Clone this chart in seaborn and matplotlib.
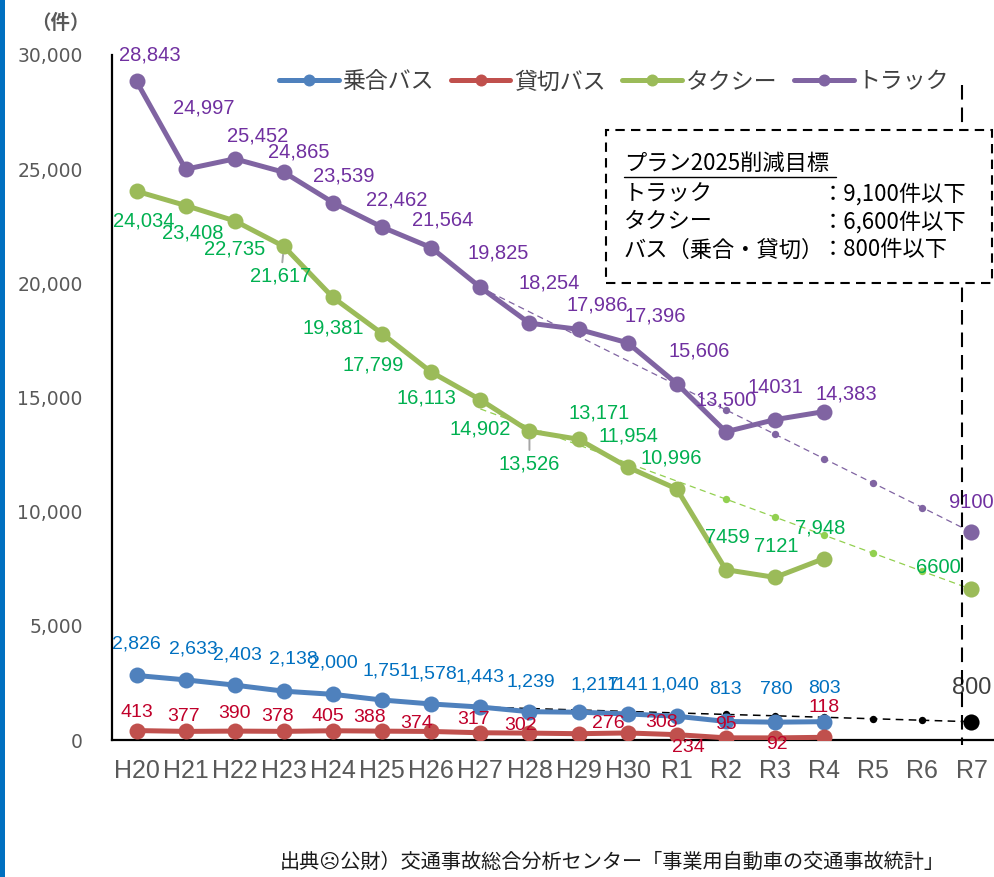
import numpy as np
import pandas as pd
import seaborn as sns
import matplotlib.pyplot as plt
from matplotlib.lines import Line2D
from matplotlib.patches import Rectangle

# ---- data ----
years = ['H20', 'H21', 'H22', 'H23', 'H24', 'H25', 'H26', 'H27', 'H28', 'H29', 'H30',
         'R1', 'R2', 'R3', 'R4', 'R5', 'R6', 'R7']

noriai_bus = [2826, 2633, 2403, 2138, 2000, 1751, 1578, 1443, 1239, 1217, 1141, 1040, 813, 780, 803]
kashikiri_bus = [413, 377, 390, 378, 405, 388, 374, 317, 302, 276, 308, 234, 95, 92, 118]
taxi = [24034, 23408, 22735, 21617, 19381, 17799, 16113, 14902, 13526, 13171, 11954, 10996, 7459, 7121, 7948]
truck = [28843, 24997, 25452, 24865, 23539, 22462, 21564, 19825, 18254, 17986, 17396, 15606, 13500, 14031, 14383]

# dotted paths H27 -> R7 toward the plan targets
trend_years = years[7:]
truck_trend = [19825, 18750, 17680, 16610, 15540, 14460, 13390, 12320, 11250, 10180, 9100]
taxi_trend = [14500, 13710, 12920, 12130, 11340, 10550, 9760, 8970, 8180, 7390, 6600]
bus_trend = [1443, 1380, 1315, 1250, 1185, 1120, 1060, 995, 930, 865, 800]
dot_years = ['R2', 'R3', 'R4', 'R5', 'R6']

target_year = 'R7'
truck_target = 9100
taxi_target = 6600
bus_target = 800

# label offsets in pixels (dx, dy up)
truck_off = [(13, 26), (18, 61), (23, 23), (15, 20), (11, 27), (15, 27), (11, 28), (18, 34), (20, 40),
             (19, 24), (28, 27), (22, 33), (0, 32), (0, 32), (22, 18)]
taxi_off = [(7, -30), (7, -27), (0, -28), (-3, -30), (0, -31), (-9, -31), (-5, -26), (0, -29), (0, -33),
            (21, 26), (1, 31), (-6, 31), (1, 32), (1, 31), (-4, 31)]
noriai_off = [(0, 31), (8, 31), (3, 30), (9, 32), (0, 31), (5, 29), (2, 30), (0, 30), (1, 30),
              (16, 27), (0, 28), (-2, 31), (0, 32), (1, 33), (0, 33)]
kashikiri_off = [(0, 18), (-2, 15), (0, 18), (-6, 15), (-5, 14), (-13, 14), (-15, 8), (-7, 13), (-9, 8),
                 (30, 10), (34, 10), (12, -13), (0, 13), (2, -7), (0, 30)]

W, H = 995, 877


def fx(px):
    return px / W


def fy(py):
    return 1 - py / H


sns.set_style('white')
plt.rcParams['font.family'] = ['Noto Sans CJK JP', 'DejaVu Sans']

fig = plt.figure(figsize=(W / 100, H / 100), dpi=100)
ax = fig.add_axes([fx(112), fy(740), fx(996) - fx(112), fy(55) - fy(740)])

pos = {y: i for i, y in enumerate(years)}
x_main = [pos[y] for y in years[:len(truck)]]
x_trend = [pos[y] for y in trend_years]
x_dots = [pos[y] for y in dot_years]
x_target = pos[target_year]

# dotted trend lines
for vals, col, lw in [(truck_trend, '#8064A2', 0.9), (taxi_trend, '#92D050', 0.9), (bus_trend, 'black', 1.1)]:
    sns.lineplot(x=x_trend, y=vals, ax=ax, color=col, linewidth=lw, linestyle=(0, (5, 3.5)),
                 zorder=3, legend=False)
    dots = [vals[trend_years.index(y)] for y in dot_years]
    sns.scatterplot(x=x_dots, y=dots, ax=ax, color=col, s=28, linewidth=0, zorder=3, legend=False)

# main series
series = [('乗合バス', noriai_bus, '#4F81BD'),
          ('貸切バス', kashikiri_bus, '#C0504D'),
          ('タクシー', taxi, '#9BBB59'),
          ('トラック', truck, '#8064A2')]
for name, vals, col in series:
    sns.lineplot(x=x_main, y=vals, ax=ax, color=col, linewidth=3.6, marker='o', markersize=11.5,
                 markeredgewidth=0, label=name, zorder=4)

# targets
for val, col in [(truck_target, '#8064A2'), (taxi_target, '#9BBB59'), (bus_target, 'black')]:
    sns.scatterplot(x=[x_target], y=[val], ax=ax, color=col, s=135, linewidth=0, zorder=5, legend=False)


def put_labels(vals, offs, color, plain=(), leaders=(), size=14.5):
    for i, (x, v, (dx, dy)) in enumerate(zip(x_main, vals, offs)):
        txt = str(v) if i in plain else f'{v:,}'
        kw = {}
        if i in leaders:
            kw['arrowprops'] = dict(arrowstyle='-', color='#A6A6A6', lw=1.4, shrinkA=1, shrinkB=6)
        ax.annotate(txt, (x, v), xytext=(dx, dy), textcoords='offset pixels', ha='center',
                    va='center', color=color, fontsize=size, family='Liberation Sans', zorder=6, **kw)


put_labels(truck, truck_off, '#7030A0', plain={13})
put_labels(taxi, taxi_off, '#00B050', plain={12, 13}, leaders={3, 8})
put_labels(noriai_bus, noriai_off, '#0070C0', plain={10}, size=14)
put_labels(kashikiri_bus, kashikiri_off, '#C0002A', size=14)

ax.annotate(str(truck_target), (x_target, truck_target), xytext=(0, 30), textcoords='offset pixels',
            ha='center', va='center', color='#7030A0', fontsize=14.5, family='Liberation Sans', zorder=6)
ax.annotate(str(taxi_target), (x_target, taxi_target), xytext=(-33, 22), textcoords='offset pixels',
            ha='center', va='center', color='#00B050', fontsize=14.5, family='Liberation Sans', zorder=6)
ax.annotate(str(bus_target), (x_target, bus_target), xytext=(0, 34), textcoords='offset pixels',
            ha='center', va='center', color='#404040', fontsize=17, family='Liberation Sans', zorder=6)

# axes styling
ax.set_xlim(-0.5, len(years) - 0.5)
ax.set_ylim(0, 30000)
ax.set_xticks(range(len(years)))
ax.set_xticklabels(years, family='Liberation Sans', fontsize=18, color='#595959')
ax.set_xticks(np.arange(0.5, len(years) - 1, 1), minor=True)
ax.tick_params(axis='x', which='major', length=0, pad=14)
ax.tick_params(axis='x', which='minor', direction='in', length=4, width=1.2, color='black')
ax.set_yticks(range(0, 30001, 5000))
ax.set_yticklabels([f'{v:,}' for v in range(0, 30001, 5000)], family='DejaVu Sans',
                   fontsize=13.5, color='#595959')
ax.tick_params(axis='y', direction='in', length=5, width=1.5, color='black', pad=21)
for s in ['top', 'right']:
    ax.spines[s].set_visible(False)
for s in ['left', 'bottom']:
    ax.spines[s].set_color('black')
    ax.spines[s].set_linewidth(1.6)
ax.set_xlabel('')
ax.set_ylabel('')

handles, labels = ax.get_legend_handles_labels()
ax.legend(handles, labels, ncol=4, loc='center left', bbox_to_anchor=(fx(279), fy(82)),
          bbox_transform=fig.transFigure, frameon=False, fontsize=16.5, handlelength=2.6,
          handletextpad=0.15, columnspacing=0.75, borderpad=0, borderaxespad=0, markerscale=0.75,
          labelcolor='#404040')

# plan box and divider
fig.add_artist(Line2D([fx(962), fx(962)], [fy(85), fy(745)], color='black', lw=1.5,
                      linestyle=(0, (7, 3.8)), zorder=2))
fig.add_artist(Rectangle((fx(606), fy(283)), fx(992) - fx(606), fy(130) - fy(283),
                         facecolor='white', edgecolor='black', lw=1.5, linestyle=(0, (4.5, 3)),
                         zorder=3))
fig.text(fx(624), fy(163), 'プラン2025削減目標', fontsize=16, color='black', va='center',
         ha='left', zorder=4)
fig.add_artist(Line2D([fx(624), fx(836)], [fy(177), fy(177)], color='black', lw=1.0, zorder=4))
box_rows = [('トラック', '：9,100件以下', 194), ('タクシー', '：6,600件以下', 222),
            ('バス（乗合・貸切）', '：800件以下', 250)]
for left, right, yy in box_rows:
    fig.text(fx(624), fy(yy), left, fontsize=16, color='black', va='center', ha='left', zorder=4)
    fig.text(fx(822), fy(yy), right, fontsize=16, color='black', va='center', ha='left', zorder=4)

fig.text(fx(60), fy(23), '（件）', fontsize=14, fontweight='bold', color='#595959',
         ha='center', va='center')
fig.text(fx(612), fy(862), '出典☹公財）交通事故総合分析センター「事業用自動車の交通事故統計」',
         fontsize=14.5, color='#1a1a1a', ha='center', va='center',
         family=['Noto Sans CJK JP', 'DejaVu Sans'])

fig.add_artist(Rectangle((0, 0), fx(5), 1, facecolor='#0070C0', edgecolor='none', zorder=5))

fig.savefig('out.png', dpi=100)
